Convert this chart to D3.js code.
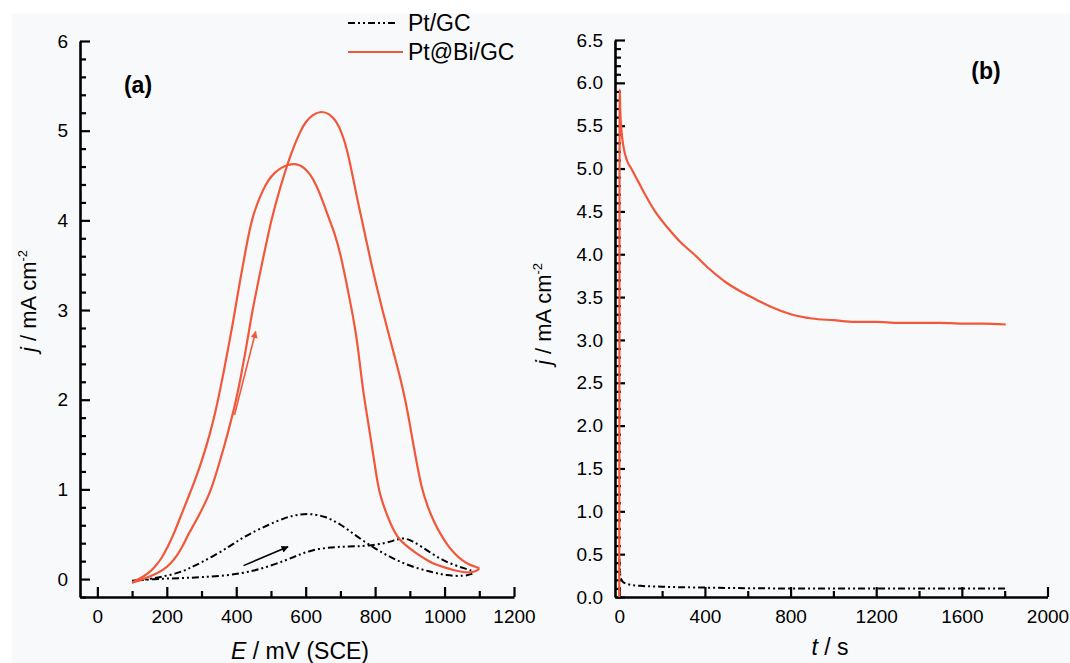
<!DOCTYPE html>
<html><head><meta charset="utf-8">
<script src="https://cdn.jsdelivr.net/npm/d3@7"></script>
<style>
body{margin:0;background:#fff}
svg{display:block}
text{font-family:"Liberation Sans",Arial,Helvetica,sans-serif;fill:#000}
</style>
</head><body>
<svg id="c" width="1070" height="663"></svg>
<script>
// ---------- DATA ----------
// Panel (a): cyclic voltammograms, [E (mV), j (mA cm^-2)]
const ptBiForward = [[100,-0.04],[125,-0.01],[160,0.04],[190,0.1],[210,0.17],[228,0.25],[245,0.36],[262,0.5],[280,0.62],[298,0.75],[313,0.87],[328,1.0],[348,1.25],[367,1.5],[384,1.75],[400,2.0],[413,2.25],[425,2.5],[436,2.75],[447,3.0],[460,3.25],[473,3.5],[487,3.75],[501,4.0],[518,4.25],[537,4.5],[560,4.77],[585,5.0],[600,5.1],[620,5.18],[645,5.22],[668,5.19],[688,5.11],[705,4.97],[720,4.78],[735,4.5],[748,4.25],[762,4.0],[776,3.75],[790,3.5],[805,3.25],[821,3.0],[838,2.75],[855,2.5],[872,2.25],[887,2.0],[899,1.75],[910,1.5],[922,1.25],[935,1.0],[950,0.82],[968,0.65],[988,0.5],[1010,0.37],[1030,0.28],[1050,0.21],[1070,0.16],[1088,0.14],[1100,0.12]];
const ptBiBackward = [[1100,0.12],[1094,0.09],[1075,0.07],[1050,0.08],[1025,0.1],[1000,0.13],[975,0.16],[954,0.2],[925,0.27],[900,0.34],[885,0.39],[870,0.44],[855,0.53],[842,0.64],[830,0.76],[820,0.87],[812,0.98],[806,1.1],[800,1.25],[790,1.5],[780,1.75],[769,2.0],[759,2.3],[750,2.6],[742,2.8],[733,3.0],[716,3.33],[700,3.63],[684,3.85],[667,4.02],[648,4.23],[630,4.4],[612,4.52],[595,4.59],[580,4.62],[566,4.63],[550,4.62],[530,4.59],[510,4.53],[492,4.45],[476,4.33],[462,4.2],[448,4.05],[436,3.85],[424,3.6],[412,3.35],[401,3.1],[390,2.85],[378,2.6],[366,2.35],[353,2.1],[340,1.86],[323,1.6],[305,1.37],[286,1.15],[264,0.93],[242,0.72],[222,0.52],[203,0.36],[185,0.23],[165,0.13],[145,0.06],[120,0.0],[100,-0.04]];
const ptForward = [[100,-0.02],[160,0.0],[235,0.01],[300,0.02],[379,0.04],[450,0.09],[500,0.15],[543,0.21],[580,0.27],[615,0.32],[660,0.35],[697,0.36],[740,0.365],[780,0.37],[831,0.4],[860,0.44],[882,0.46],[905,0.43],[934,0.36],[965,0.28],[995,0.21],[1025,0.16],[1057,0.12],[1080,0.09]];
const ptBackward = [[1080,0.06],[1057,0.03],[1005,0.04],[960,0.08],[903,0.14],[850,0.23],[800,0.34],[749,0.47],[698,0.62],[655,0.7],[615,0.73],[580,0.72],[543,0.69],[490,0.6],[441,0.51],[410,0.44],[379,0.36],[340,0.27],[297,0.18],[265,0.12],[235,0.07],[190,0.03],[153,0.0],[102,-0.02]];
const arrowRed = [[395,1.83],[456,2.76]];
const arrowBlack = [[421,0.15],[549,0.36]];

// Panel (b): chronoamperometry, [t (s), j (mA cm^-2)]
const ptBiCA = [[0,0],[2,5.92],[5,5.65],[10,5.45],[20,5.25],[35,5.1],[56,5.0],[88,4.85],[120,4.7],[167,4.5],[229,4.3],[290,4.13],[349,4.0],[420,3.83],[499,3.67],[578,3.55],[640,3.47],[705,3.39],[801,3.3],[900,3.25],[1000,3.23],[1100,3.21],[1200,3.21],[1300,3.2],[1400,3.2],[1500,3.2],[1600,3.19],[1700,3.19],[1805,3.18]];
const ptCA = [[0,0.45],[5,0.25],[15,0.18],[40,0.15],[100,0.13],[200,0.12],[400,0.11],[800,0.10],[1200,0.10],[1600,0.10],[1810,0.10]];

// Ticks
const aXTicks = [0,200,400,600,800,1000,1200];
const aXMinor = [100,300,500,700,900,1100];
const aYTicks = [0,1,2,3,4,5,6];
const bXTicks = [0,400,800,1200,1600,2000];
const bXMinor = [200,600,1000,1400,1800];
const bYTicks = [0,0.5,1,1.5,2,2.5,3,3.5,4,4.5,5,5.5,6,6.5];

const legendLabels = ["Pt/GC","Pt@Bi/GC"];

// ---------- STYLE ----------
const RED = "#f2573a";
const DASH = "7,3,2,3,2,3";
const svg = d3.select("#c");
svg.append("rect").attr("x",12).attr("y",13).attr("width",1058).attr("height",650).attr("fill","#f8f9fb");

const defs = svg.append("defs");
function marker(id,color){
  defs.append("marker").attr("id",id).attr("viewBox","0 0 10 10").attr("refX",9).attr("refY",5)
    .attr("markerWidth",9).attr("markerHeight",7).attr("markerUnits","userSpaceOnUse").attr("orient","auto")
    .append("path").attr("d","M0,0 L10,5 L0,10 z").attr("fill",color);
}
marker("ar",RED); marker("ab","#000");

function drawAxes(g,x,y,xt,xm,yt,ymStep,yFmt){
  const yMin = y.domain()[0], yMax = y.domain()[1];
  const ym = d3.range(Math.ceil(yMin/ymStep)*ymStep, yMax+1e-9, ymStep).filter(v=>!yt.some(t=>Math.abs(t-v)<1e-6));
  const xy = y.range()[0];
  const xx = x.range()[0];
  g.append("g").attr("transform",`translate(0,${xy})`).call(d3.axisBottom(x).tickValues(xm).tickSize(-6).tickFormat("")).call(s=>s.select(".domain").remove());
  g.append("g").attr("transform",`translate(${xx},0)`).call(d3.axisLeft(y).tickValues(ym).tickSize(-6).tickFormat("")).call(s=>s.select(".domain").remove());
  g.append("g").attr("transform",`translate(0,${xy})`).call(d3.axisBottom(x).tickValues(xt).tickSize(-10).tickSizeOuter(0).tickPadding(13).tickFormat(d3.format("d")));
  g.append("g").attr("transform",`translate(${xx},0)`).call(d3.axisLeft(y).tickValues(yt).tickSize(-10).tickSizeOuter(0).tickPadding(12).tickFormat(yFmt));
  g.selectAll("line").attr("stroke","#000").attr("stroke-width",2.2);
  g.selectAll(".domain").attr("stroke","#000").attr("stroke-width",2.6);
  g.selectAll("text").attr("font-size",19).attr("font-family",'"Liberation Sans",Arial,sans-serif').attr("fill","#000");
}

// ---------- PANEL A ----------
const xA = d3.scaleLinear().domain([-50,1200]).range([80,514]);
const yA = d3.scaleLinear().domain([-0.2,6]).range([597,41]);
const gA = svg.append("g");
drawAxes(gA,xA,yA,aXTicks,aXMinor,aYTicks,0.2,d3.format("d"));
const lineA = d3.line().x(d=>xA(d[0])).y(d=>yA(d[1])).curve(d3.curveBasis);
gA.append("path").attr("d",lineA(ptForward)).attr("fill","none").attr("stroke","#000").attr("stroke-width",2).attr("stroke-dasharray",DASH);
gA.append("path").attr("d",lineA(ptBackward)).attr("fill","none").attr("stroke","#000").attr("stroke-width",2).attr("stroke-dasharray",DASH);
gA.append("path").attr("d",lineA(ptBiForward)).attr("fill","none").attr("stroke",RED).attr("stroke-width",2.2);
gA.append("path").attr("d",lineA(ptBiBackward)).attr("fill","none").attr("stroke",RED).attr("stroke-width",2.2);
const straight = d3.line().x(d=>xA(d[0])).y(d=>yA(d[1]));
gA.append("path").attr("d",straight(arrowRed)).attr("stroke",RED).attr("stroke-width",1.6).attr("fill","none").attr("marker-end","url(#ar)");
gA.append("path").attr("d",straight(arrowBlack)).attr("stroke","#000").attr("stroke-width",1.6).attr("fill","none").attr("marker-end","url(#ab)");

gA.append("text").attr("x",138).attr("y",93).attr("text-anchor","middle").attr("font-size",23).attr("font-weight","bold").text("(a)");
const tA = gA.append("text").attr("x",300).attr("y",659).attr("text-anchor","middle").attr("font-size",23);
tA.append("tspan").attr("font-style","italic").text("E");
tA.append("tspan").text(" / mV (SCE)");
const yTA = gA.append("text").attr("transform","translate(36,301) rotate(-90)").attr("text-anchor","middle").attr("font-size",22);
yTA.append("tspan").attr("font-style","italic").text("j");
yTA.append("tspan").text(" / mA cm");
yTA.append("tspan").attr("font-size",13).attr("dy",-9).text("-2");

// Legend
const leg = svg.append("g");
leg.append("line").attr("x1",348).attr("x2",397).attr("y1",23).attr("y2",23).attr("stroke","#000").attr("stroke-width",2).attr("stroke-dasharray",DASH);
leg.append("text").attr("x",408).attr("y",31).attr("font-size",23).text(legendLabels[0]);
leg.append("line").attr("x1",348).attr("x2",403).attr("y1",52).attr("y2",52).attr("stroke",RED).attr("stroke-width",2.2);
leg.append("text").attr("x",408).attr("y",60).attr("font-size",23).text(legendLabels[1]);

// ---------- PANEL B ----------
const xB = d3.scaleLinear().domain([-20,2000]).range([615,1047.5]);
const yB = d3.scaleLinear().domain([0,6.5]).range([597,40]);
const gB = svg.append("g");
drawAxes(gB,xB,yB,bXTicks,bXMinor,bYTicks,0.1,d3.format(".1f"));
const lineB = d3.line().x(d=>xB(d[0])).y(d=>yB(d[1])).curve(d3.curveMonotoneX);
gB.append("path").attr("d",lineB(ptCA)).attr("fill","none").attr("stroke","#000").attr("stroke-width",2).attr("stroke-dasharray",DASH);
gB.append("path").attr("d",lineB(ptBiCA)).attr("fill","none").attr("stroke",RED).attr("stroke-width",2.2);

gB.append("text").attr("x",986).attr("y",79).attr("text-anchor","middle").attr("font-size",23).attr("font-weight","bold").text("(b)");
const tB = gB.append("text").attr("x",830).attr("y",655).attr("text-anchor","middle").attr("font-size",23);
tB.append("tspan").attr("font-style","italic").text("t");
tB.append("tspan").text(" / s");
const yTB = gB.append("text").attr("transform","translate(551,314) rotate(-90)").attr("text-anchor","middle").attr("font-size",22);
yTB.append("tspan").attr("font-style","italic").text("j");
yTB.append("tspan").text(" / mA cm");
yTB.append("tspan").attr("font-size",13).attr("dy",-9).text("-2");
</script>
</body></html>
